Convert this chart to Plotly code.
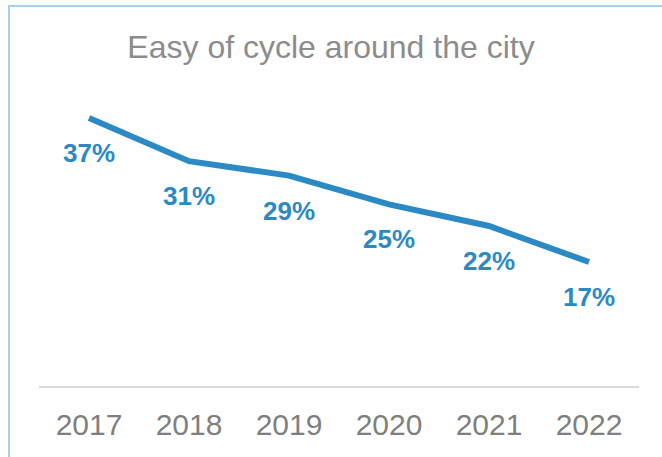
import plotly.graph_objects as go

years = ["2017", "2018", "2019", "2020", "2021", "2022"]
values = [37, 31, 29, 25, 22, 17]
labels = ["37%", "31%", "29%", "25%", "22%", "17%"]

line_color = "#2B8AC4"

fig = go.Figure()
fig.add_trace(go.Scatter(
    x=list(years), y=list(values), mode="lines",
    line=dict(color=line_color, width=6),
    hoverinfo="skip", showlegend=False,
))

# category axis: annotations positioned by category index
for i, (v, lab) in enumerate(zip(values, labels)):
    fig.add_annotation(
        x=i, y=v, xref="x", yref="y", text="<b>" + lab + "</b>", showarrow=False,
        yshift=-35, font=dict(family="Liberation Sans, Arial", size=26, color=line_color),
    )

W, H = 662, 457
ml, mr, mt, mb = 39, 23, 100, 71
pw, ph = W - ml - mr, H - mt - mb

def px_to_paper_x(px):
    return (px - ml) / pw

def px_to_paper_y(py):
    return (H - mb - py) / ph

fig.add_shape(
    type="rect", xref="paper", yref="paper",
    x0=px_to_paper_x(9), x1=px_to_paper_x(680),
    y0=px_to_paper_y(480), y1=px_to_paper_y(6),
    line=dict(color="#A3D2F0", width=2), fillcolor="rgba(0,0,0,0)", layer="below",
)

fig.update_layout(
    width=W, height=H,
    margin=dict(l=ml, r=mr, t=mt, b=mb, autoexpand=False),
    paper_bgcolor="white", plot_bgcolor="white",
    title=dict(
        text="Easy of cycle around the city", x=0.5, xanchor="center",
        y=1 - 47 / H, yanchor="middle", yref="container",
        font=dict(family="Liberation Sans, Arial", size=32, color="#8C8C8C"),
    ),
    xaxis=dict(
        type="category", categoryorder="array", categoryarray=years,
        range=[-0.5, len(years) - 0.5], autorange=False, automargin=False,
        showgrid=False, showline=True, linecolor="#D9D9D9", linewidth=2,
        ticks="", ticklabelstandoff=11,
        tickfont=dict(family="Liberation Sans, Arial", size=30, color="#7F7F7F"),
    ),
    yaxis=dict(range=[-0.22, 39.5], autorange=False, visible=False,
               showgrid=False, zeroline=False),
)

fig.write_html("out.html", config={"displayModeBar": False},
               post_script="document.body.style.margin='0';")
